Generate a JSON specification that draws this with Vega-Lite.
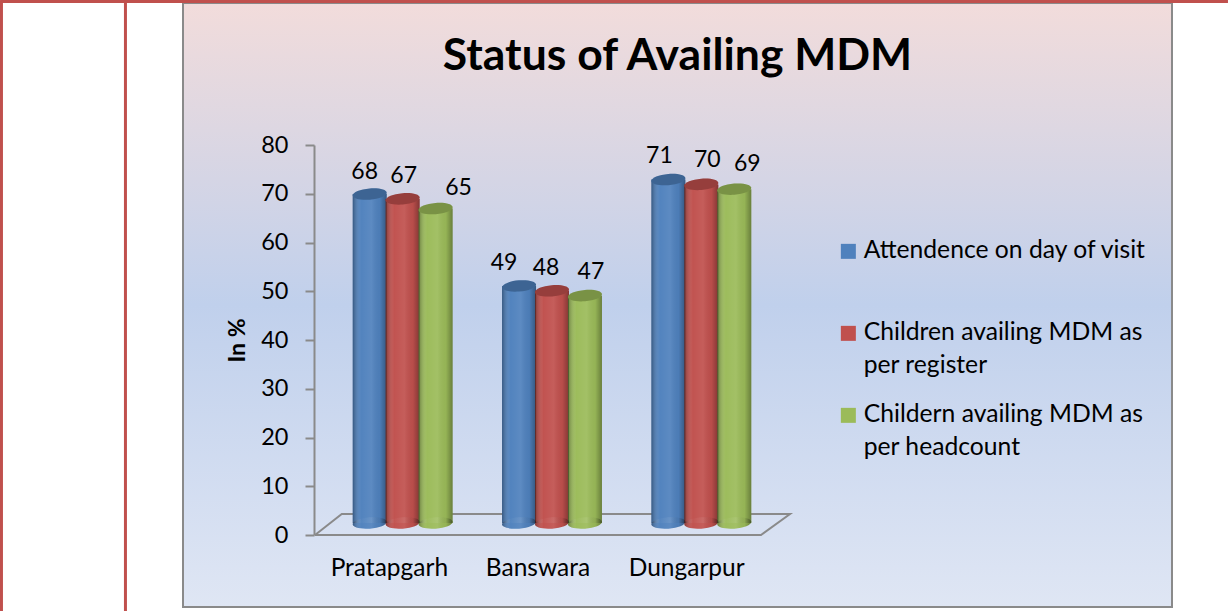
{
"$schema":"https://vega.github.io/schema/vega-lite/v6.json",
"width":989,"height":604,
"autosize":"none",
"padding":{"left":183,"top":3,"right":56,"bottom":4},
"background":"white",
"config":{"font":"Lato"},
"view":{"stroke":"#8a8a8a","strokeWidth":2,"fill":{"gradient":"linear","x1":0,"y1":0,"x2":0,"y2":1,"stops":[{"offset":0,"color":"#F2DCDB"},{"offset":0.5,"color":"#C0D0EC"},{"offset":1,"color":"#DFE6F4"}]}},
"title":{"text":"Status of Availing MDM","font":"Lato","fontSize":44.5,"fontWeight":"bold","color":"#000000","anchor":"middle","baseline":"alphabetic","offset":-116},
"datasets":{
"bars":[
{"site":"Pratapgarh","series":"Attendence on day of visit","value":68},
{"site":"Pratapgarh","series":"Children availing MDM as per register","value":67},
{"site":"Pratapgarh","series":"Childern availing MDM as per headcount","value":65},
{"site":"Banswara","series":"Attendence on day of visit","value":49},
{"site":"Banswara","series":"Children availing MDM as per register","value":48},
{"site":"Banswara","series":"Childern availing MDM as per headcount","value":47},
{"site":"Dungarpur","series":"Attendence on day of visit","value":71},
{"site":"Dungarpur","series":"Children availing MDM as per register","value":70},
{"site":"Dungarpur","series":"Childern availing MDM as per headcount","value":69}
],
"floor":[{"i":0,"u":0,"v":0},{"i":1,"u":0.06,"v":4.3},{"i":2,"u":1.065,"v":4.3},{"i":3,"u":1,"v":0},{"i":4,"u":0,"v":0}],
"frame":[{"u":-0.703,"u2":-0.703,"v":-15.6,"v2":109.7},{"u":-0.425,"u2":-0.425,"v":-15.6,"v2":109.7},{"u":-0.706,"u2":2.047,"v":109.45,"v2":109.45}]
},
"resolve":{"scale":{"x":"independent","y":"independent"},"axis":{"x":"independent","y":"independent"}},
"layer":[
{"data":{"name":"frame"},"mark":{"type":"rule","color":"#C0504D","strokeWidth":3,"clip":false},
 "encoding":{"x":{"field":"u","type":"quantitative","axis":null,"scale":{"domain":[0,1],"range":[132,578],"nice":false,"zero":false}},"x2":{"field":"u2"},
 "y":{"field":"v","type":"quantitative","axis":null,"scale":{"domain":[0,80],"range":[532,142],"nice":false}},"y2":{"field":"v2"}}},
{"data":{"name":"floor"},"mark":{"type":"line","color":"#8a8a8a","strokeWidth":2},
 "encoding":{"x":{"field":"u","type":"quantitative","axis":null,"scale":{"domain":[0,1],"range":[132,578],"nice":false,"zero":false}},
 "y":{"field":"v","type":"quantitative","axis":null,"scale":{"domain":[0,80],"range":[532,142],"nice":false}},"order":{"field":"i"}}},
{"data":{"name":"bars"},"mark":{"type":"bar","opacity":0},
 "encoding":{
 "x":{"field":"site","type":"nominal","sort":["Pratapgarh","Banswara","Dungarpur"],"scale":{"range":[132,578],"paddingInner":0.2,"paddingOuter":0.1},
  "axis":{"title":null,"orient":"bottom","offset":-72,"labelAngle":0,"ticks":false,"domain":false,"labelFontSize":24.5,"labelColor":"#000000","labelPadding":21,"labelFont":"Lato"}},
 "y":{"field":"value","type":"quantitative","stack":null,"scale":{"domain":[0,80],"range":[532,142],"nice":false},
  "axis":{"title":"In %","titleFont":"Lato","titleFontSize":23,"titleFontWeight":"bold","titleColor":"#000000","titlePadding":11,"offset":-131,"values":[0,10,20,30,40,50,60,70,80],"grid":false,"domainColor":"#8a8a8a","domainWidth":2,"tickColor":"#8a8a8a","tickWidth":2,"tickSize":9,"labelFontSize":23.5,"labelColor":"#000000","labelPadding":17,"labelFont":"Lato"}}}},
{"data":{"name":"bars"},
 "encoding":{
 "x":{"field":"site","type":"nominal","sort":["Pratapgarh","Banswara","Dungarpur"],"axis":null,"scale":{"range":[145,593],"paddingInner":0.338,"paddingOuter":0.169}},
 "xOffset":{"field":"series","type":"nominal","sort":["Attendence on day of visit","Children availing MDM as per register","Childern availing MDM as per headcount"]},
 "y":{"field":"value","type":"quantitative","stack":null,"axis":null,"scale":{"domain":[0,80],"range":[520,133],"nice":false}}},
 "layer":[
 {"mark":{"type":"point","filled":true,"opacity":1,"shape":"M-1,0.08A1,0.33,-5,1,1,1,-0.08A1,0.33,-5,1,1,-1,0.08Z","size":1156},
  "encoding":{"y":{"datum":0,"type":"quantitative"},"color":{"field":"series","type":"nominal"}}},
 {"mark":{"type":"bar","width":34},
  "encoding":{"color":{"field":"series","type":"nominal","sort":["Attendence on day of visit","Children availing MDM as per register","Childern availing MDM as per headcount"],
   "scale":{"domain":["Attendence on day of visit","Children availing MDM as per register","Childern availing MDM as per headcount"],"range":["#4F81BD","#C0504D","#9BBB59"]},
   "legend":{"title":null,"orient":"none","legendX":653,"legendY":236,"symbolType":"square","symbolSize":225,"symbolStrokeWidth":0,"symbolOpacity":1,"labelFont":"Lato","labelFontSize":24.7,"labelColor":"#000000","labelLimit":400,"labelOffset":3,"rowPadding":23,
   "labelExpr":"datum.label=='Children availing MDM as per register'?['Children availing MDM as','per register']:datum.label=='Childern availing MDM as per headcount'?['Childern availing MDM as','per headcount']:[datum.label,' ']",
   "encode":{"labels":{"update":{"lineHeight":{"value":33}}}}}}}},
 {"mark":{"type":"bar","width":34,"fill":{"gradient":"linear","x1":0,"y1":0,"x2":1,"y2":0,"stops":[{"offset":0,"color":"rgba(0,0,0,0.32)"},{"offset":0.25,"color":"rgba(255,255,255,0.02)"},{"offset":0.55,"color":"rgba(255,255,255,0.08)"},{"offset":0.8,"color":"rgba(0,0,0,0.04)"},{"offset":1,"color":"rgba(0,0,0,0.32)"}]}}},
 {"mark":{"type":"point","filled":true,"opacity":1,"shape":"M-1,0.08A1,0.33,-5,1,1,1,-0.08A1,0.33,-5,1,1,-1,0.08Z","size":1156},
  "encoding":{"y":{"datum":0,"type":"quantitative"},"fill":{"value":{"gradient":"linear","x1":0,"y1":0,"x2":1,"y2":0,"stops":[{"offset":0,"color":"rgba(0,0,0,0.32)"},{"offset":0.25,"color":"rgba(255,255,255,0.02)"},{"offset":0.55,"color":"rgba(255,255,255,0.08)"},{"offset":0.8,"color":"rgba(0,0,0,0.04)"},{"offset":1,"color":"rgba(0,0,0,0.32)"}]}}}},
 {"mark":{"type":"point","filled":true,"opacity":1,"shape":"M-1,0.08A1,0.33,-5,1,1,1,-0.08A1,0.33,-5,1,1,-1,0.08Z","size":1156},
  "encoding":{"color":{"field":"series","type":"nominal"}}},
 {"mark":{"type":"point","filled":true,"opacity":0.22,"color":"#000000","shape":"M-1,0.08A1,0.33,-5,1,1,1,-0.08A1,0.33,-5,1,1,-1,0.08Z","size":1156}},
 {"transform":[{"filter":"datum.site=='Pratapgarh'&&datum.value==68"}],"mark":{"type":"text","font":"Lato","fontSize":23,"color":"#000000","dx":-5,"dy":-22},"encoding":{"text":{"field":"value","type":"quantitative"}}},
 {"transform":[{"filter":"datum.site=='Pratapgarh'&&datum.value==67"}],"mark":{"type":"text","font":"Lato","fontSize":23,"color":"#000000","dx":1,"dy":-23},"encoding":{"text":{"field":"value","type":"quantitative"}}},
 {"transform":[{"filter":"datum.site=='Pratapgarh'&&datum.value==65"}],"mark":{"type":"text","font":"Lato","fontSize":23,"color":"#000000","dx":23,"dy":-21},"encoding":{"text":{"field":"value","type":"quantitative"}}},
 {"transform":[{"filter":"datum.site=='Banswara'&&datum.value==49"}],"mark":{"type":"text","font":"Lato","fontSize":23,"color":"#000000","dx":-15,"dy":-23},"encoding":{"text":{"field":"value","type":"quantitative"}}},
 {"transform":[{"filter":"datum.site=='Banswara'&&datum.value==48"}],"mark":{"type":"text","font":"Lato","fontSize":23,"color":"#000000","dx":-6,"dy":-23},"encoding":{"text":{"field":"value","type":"quantitative"}}},
 {"transform":[{"filter":"datum.site=='Banswara'&&datum.value==47"}],"mark":{"type":"text","font":"Lato","fontSize":23,"color":"#000000","dx":6,"dy":-24},"encoding":{"text":{"field":"value","type":"quantitative"}}},
 {"transform":[{"filter":"datum.site=='Dungarpur'&&datum.value==71"}],"mark":{"type":"text","font":"Lato","fontSize":23,"color":"#000000","dx":-9,"dy":-24},"encoding":{"text":{"field":"value","type":"quantitative"}}},
 {"transform":[{"filter":"datum.site=='Dungarpur'&&datum.value==70"}],"mark":{"type":"text","font":"Lato","fontSize":23,"color":"#000000","dx":6,"dy":-24},"encoding":{"text":{"field":"value","type":"quantitative"}}},
 {"transform":[{"filter":"datum.site=='Dungarpur'&&datum.value==69"}],"mark":{"type":"text","font":"Lato","fontSize":23,"color":"#000000","dx":13,"dy":-25},"encoding":{"text":{"field":"value","type":"quantitative"}}}
 ]}
]
}
